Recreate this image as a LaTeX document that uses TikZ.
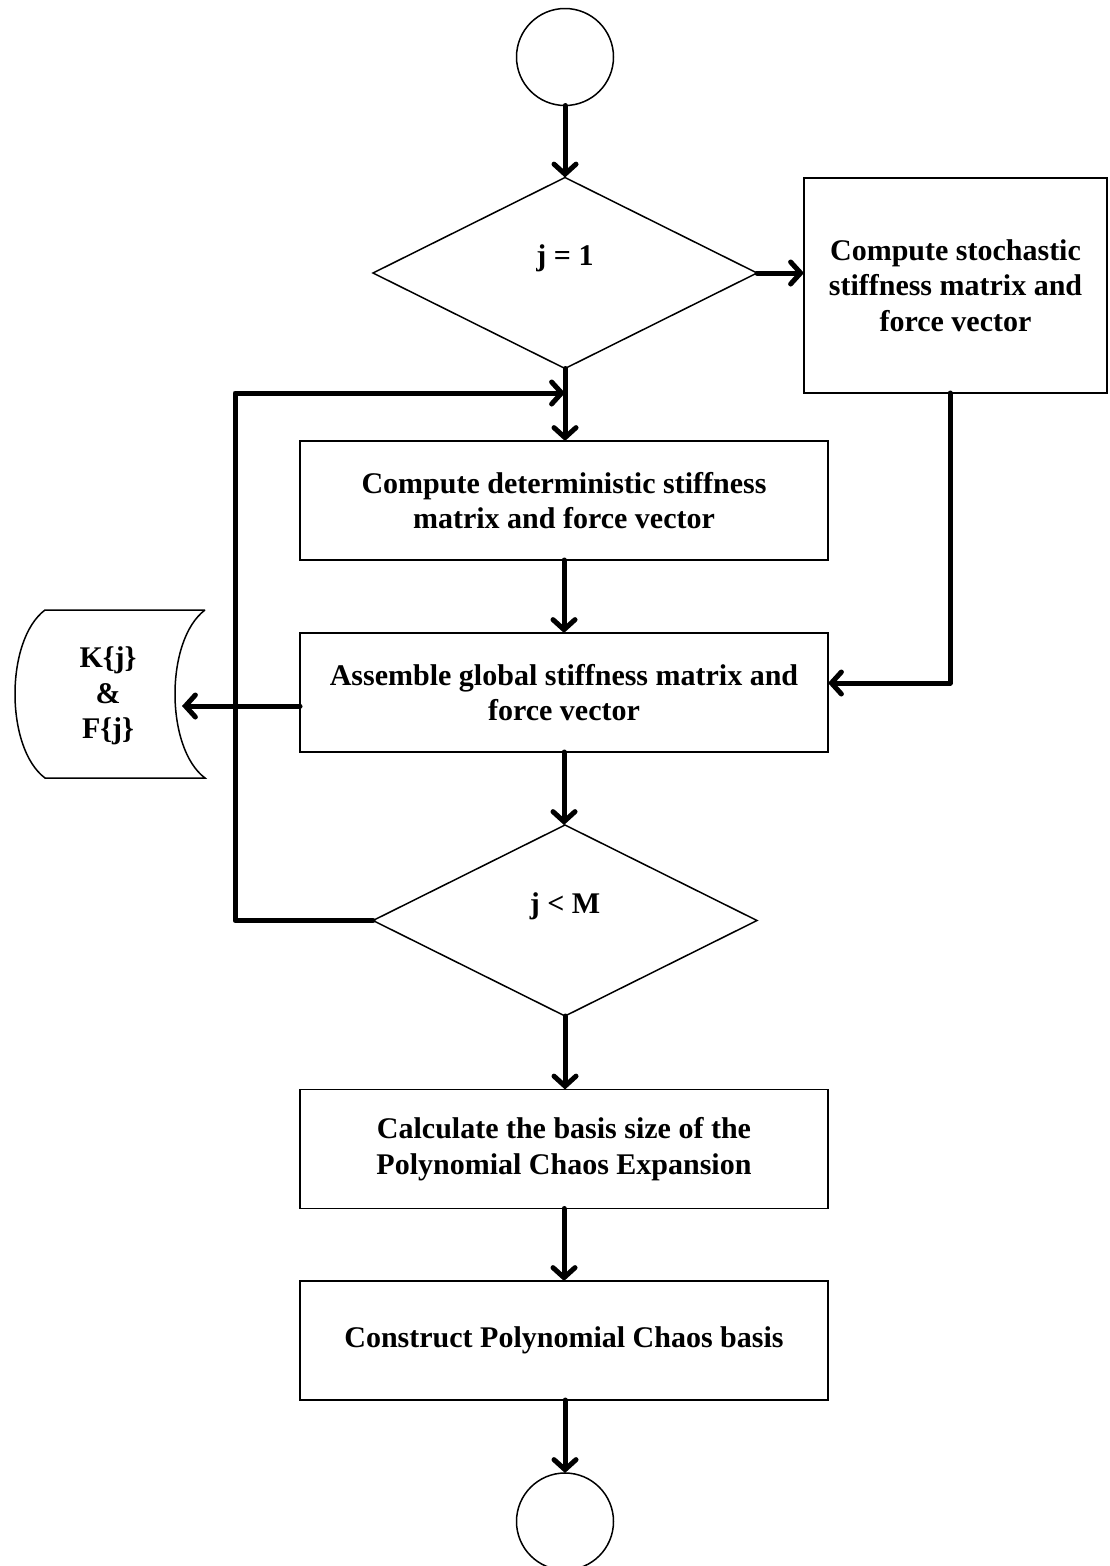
\documentclass[tikz,border=0pt]{standalone}
\usepackage{fontspec}
\setmainfont{Liberation Serif}
\usetikzlibrary{shapes.geometric,arrows.meta}
\begin{document}
\begin{tikzpicture}[x=1pt,y=-1pt,
  every node/.style={font=\bfseries\fontsize{30}{35.5}\selectfont, inner sep=0pt, outer sep=0pt},
  thin line/.style={line width=1.5pt},
  procbox/.style={thin line, draw, rectangle, align=center, minimum width=528pt, minimum height=119pt},
  decision/.style={thin line, draw, diamond, minimum width=384pt, minimum height=191pt},
  terminal/.style={thin line, draw, circle, minimum size=97pt},
  flow/.style={line width=5pt, line cap=round, line join=round, -{Straight Barb[length=10pt,width=22pt,line cap=round]}}
]
\useasboundingbox (0,0) rectangle (1109,1566);
\clip (0,0) rectangle (1109,1566);

\node[terminal] (start) at (565,57) {};
\node[decision] (d1) at (565,273) {};
\node (d1t) at (565,258) {j = 1};
\node[procbox, minimum width=303pt, minimum height=215pt] (stoch) at (955.5,285.5) {Compute stochastic\\stiffness matrix and\\force vector};
\node[procbox] (det) at (564,500.5) {Compute deterministic stiffness\\matrix and force vector};
\node[procbox] (asm) at (564,692.5) {Assemble global stiffness matrix and\\force vector};
\node[decision] (d2) at (565,920.5) {};
\node (d2t) at (565,906) {j < M};
\node[procbox] (basis) at (564,1149) {Calculate the basis size of the\\Polynomial Chaos Expansion};
\node[procbox] (cons) at (564,1340.5) {Construct Polynomial Chaos basis};
\node[terminal] (stop) at (565,1521.5) {};

% storage
\node[align=center, minimum width=120pt, minimum height=168pt] (store) at (108,696) {K\{j\}\\\&\\F\{j\}};
\draw[thin line] (205,610) -- (45,610) .. controls (5,640) and (5,748) .. (45,778) -- (205,778)
  .. controls (165,748) and (165,640) .. (205,610);

% connectors
\draw[flow] (start.south) -- (d1.north);
\draw[flow] (d1.east) -- (stoch.west |- d1.east);
\draw[flow] (d1.south) -- (det.north -| d1.south);
\draw[flow] (det.south) -- (asm.north);
\coordinate (sb) at (950,393);
\draw[flow] (sb) -- (950,683) -- (asm.east |- 0,683);
\coordinate (storein) at (182,706);
\draw[flow] (asm.west |- 0,706) -- (storein);
\draw[flow] (asm.south) -- (d2.north -| asm.south);
\coordinate (loopin) at (565,393);
\draw[flow] (d2.west) -- (235,920.5) -- (235,393) -- (loopin);
\draw[flow] (d2.south) -- (basis.north -| d2.south);
\draw[flow] (basis.south) -- (cons.north);
\draw[flow] (cons.south -| stop.north) -- (stop.north);
\end{tikzpicture}
\end{document}
